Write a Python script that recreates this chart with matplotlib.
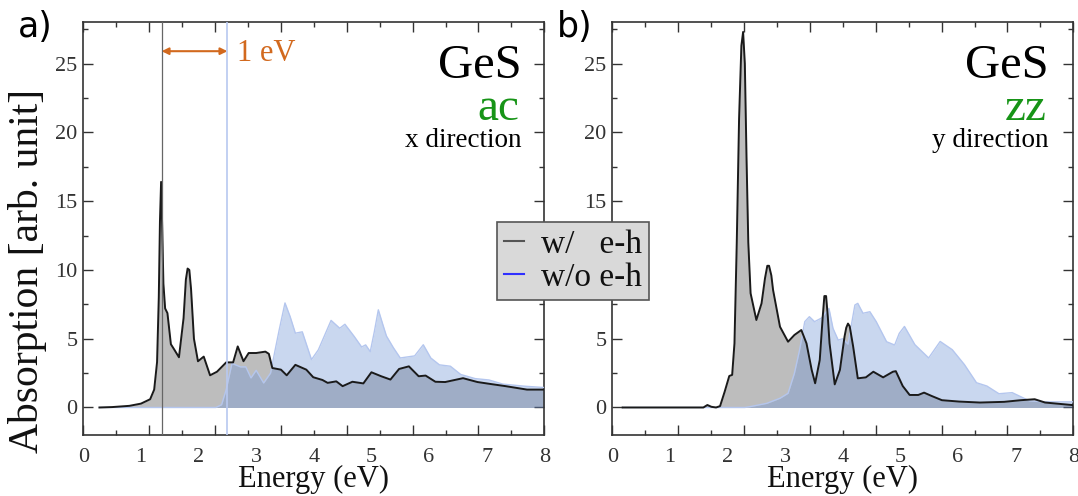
import numpy as np
import matplotlib
matplotlib.use("Agg")
import matplotlib.pyplot as plt
from matplotlib.ticker import FixedLocator, NullFormatter
from matplotlib.lines import Line2D

plt.rcParams['font.family'] = ['Liberation Serif', 'DejaVu Serif']

# ---------------- data ----------------
# panel a) : GeS, ac, x direction
a_x_eh = [0.28, 0.5, 0.8, 1.0, 1.16, 1.23, 1.28, 1.31, 1.33, 1.35, 1.37, 1.39, 1.42, 1.46,
          1.52, 1.58, 1.66, 1.74, 1.78, 1.81, 1.84, 1.87, 1.92, 1.99, 2.09, 2.2, 2.32,
          2.48, 2.6, 2.68, 2.78, 2.87, 3.0, 3.16, 3.22, 3.28, 3.43, 3.53, 3.68, 3.87, 3.99,
          4.15, 4.24, 4.39, 4.5, 4.67, 4.86, 5.0, 5.17, 5.33, 5.48, 5.65, 5.82, 5.94, 6.11,
          6.28, 6.59, 6.84, 7.08, 7.33, 7.7, 8.0]
a_y_eh = [0.0, 0.03, 0.12, 0.28, 0.6, 1.3, 3.3, 8.0, 13.5, 16.4, 13.0, 9.0, 7.2, 6.86,
          4.6, 4.2, 3.65, 6.5, 9.3, 10.1, 10.0, 8.6, 5.0, 3.36, 3.7, 2.34, 2.6,
          3.28, 3.28, 4.44, 3.36, 3.96, 3.96, 4.06, 3.9, 2.87, 2.75, 2.34, 3.1, 2.75, 2.2,
          2.0, 1.79, 1.9, 1.55, 1.87, 1.75, 2.56, 2.27, 2.03, 2.8, 2.99, 2.27, 2.32, 1.87,
          1.85, 2.13, 1.85, 1.7, 1.55, 1.3, 1.3]
a_x_noeh = [0.28, 2.3, 2.4, 2.48, 2.58, 2.73, 2.82, 2.91, 3.0, 3.13, 3.25, 3.33, 3.4, 3.5,
            3.59, 3.68, 3.8, 3.96, 4.08, 4.3, 4.45, 4.54, 4.7, 4.83, 4.9, 4.98, 5.05, 5.12,
            5.2, 5.26, 5.38, 5.5, 5.75, 5.9, 6.03, 6.18, 6.37, 6.55, 6.8, 7.04, 7.28, 7.65,
            8.0]
a_y_noeh = [0.0, 0.0, 0.2, 1.3, 3.2, 2.95, 2.95, 2.15, 2.7, 1.78, 2.5, 4.2, 5.65, 7.6,
            6.6, 5.4, 5.5, 3.48, 4.2, 6.33, 5.76, 6.05, 5.17, 4.4, 4.55, 4.06, 5.5, 7.1,
            6.0, 5.2, 4.35, 3.6, 3.75, 4.56, 3.6, 3.1, 3.0, 2.4, 2.1, 2.0, 1.7, 1.55,
            1.45]

# panel b) : GeS, zz, y direction
b_x_eh = [0.18, 1.58, 1.65, 1.72, 1.8, 1.87, 1.95, 2.03, 2.08, 2.12, 2.16, 2.20, 2.24, 2.27,
          2.30, 2.33, 2.36, 2.40, 2.5, 2.59, 2.65, 2.69, 2.72, 2.76, 2.79, 2.91, 3.05, 3.16,
          3.28, 3.37, 3.46, 3.52, 3.6, 3.65, 3.68, 3.71, 3.74, 3.77, 3.86, 3.95, 4.03, 4.06,
          4.09, 4.12, 4.18, 4.26, 4.40, 4.53, 4.70, 4.87, 4.92, 5.04, 5.16, 5.31, 5.41,
          5.54, 5.72, 6.02, 6.38, 6.8, 7.09, 7.33, 7.51, 7.69, 8.0]
b_y_eh = [0.0, 0.0, 0.18, 0.05, 0.0, 0.1, 1.15, 2.29, 2.37, 4.66, 12.0, 21.0, 26.3, 27.3,
          25.0, 18.0, 12.0, 8.3, 6.36, 7.57, 9.4, 10.3, 10.3, 9.6, 8.54, 5.87, 4.78, 5.27,
          5.63, 4.66, 2.73, 1.76, 3.45, 6.5, 8.1, 8.1, 6.6, 4.66, 1.68, 2.73, 5.15, 5.8,
          6.1, 5.9, 4.42, 2.12, 2.19, 2.6, 2.19, 2.6, 2.64, 1.56, 0.91, 0.91, 1.08,
          0.84, 0.53, 0.43, 0.36, 0.41, 0.53, 0.6, 0.36, 0.29, 0.17]
b_x_noeh = [0.18, 2.3, 2.39, 2.68, 2.91, 3.05, 3.16, 3.25, 3.34, 3.42, 3.51, 3.63, 3.76,
            3.83, 3.92, 4.0, 4.09, 4.21, 4.26, 4.35, 4.47, 4.58, 4.76, 4.9, 4.98, 5.07,
            5.25, 5.49, 5.69, 5.9, 6.11, 6.32, 6.5, 6.71, 6.94, 7.06, 7.24, 7.51, 8.0]
b_y_noeh = [0.0, 0.0, 0.06, 0.3, 0.67, 1.03, 2.48, 4.18, 6.24, 6.6, 6.24, 6.5, 7.2,
            5.75, 4.9, 5.0, 4.6, 7.45, 7.57, 6.85, 6.96, 6.24, 4.78, 4.54, 5.39, 5.89,
            4.57, 3.6, 4.8, 4.2, 3.12, 1.8, 1.56, 1.0, 1.08, 0.84, 0.48, 0.41, 0.41]

x_tick_labels = [0, 1, 2, 3, 4, 5, 6, 7, 8]
y_tick_labels = [0, 5, 10, 15, 20, 25]
exc_line_a = 1.36     # w/ e-h onset
qp_line_a = 2.50      # w/o e-h onset
panel_names = ['a)', 'b)']
materials = ['GeS', 'GeS']
edges = ['ac', 'zz']
directions = ['x direction', 'y direction']
legend_labels = ['w/   e-h', 'w/o e-h']

# ---------------- styling ----------------
W, H = 1078, 496
fig = plt.figure(figsize=(W / 100, H / 100), dpi=100)

GRAY_FILL = '#bdbdbd'
BLUE_FILL = '#6d93d6'
BLUE_EDGE = '#b4c6ee'
BLACK = '#1a1a1a'
GREEN = '#179417'
ORANGE = '#d2691e'
TICKC = '#333333'

ax_h = (435 - 22.3) / H
ax_bottom = (H - 435) / H
axes = [fig.add_axes([83.3 / W, ax_bottom, 461 / W, ax_h]),
        fig.add_axes([612.3 / W, ax_bottom, 461 / W, ax_h])]

data = [(a_x_eh, a_y_eh, a_x_noeh, a_y_noeh), (b_x_eh, b_y_eh, b_x_noeh, b_y_noeh)]

for i, ax in enumerate(axes):
    xe, ye, xn, yn = data[i]
    ax.fill_between(xe, 0, ye, color=GRAY_FILL, lw=0, zorder=1)
    ax.fill_between(xn, 0, yn, color=BLUE_FILL, alpha=0.37, lw=0, zorder=2)
    ax.plot(xn, yn, color=BLUE_EDGE, lw=1.0, zorder=3)
    ax.plot(xe, ye, color=BLACK, lw=1.4, zorder=4, solid_joinstyle='round')
    ax.set_xlim(0, 8)
    ax.set_ylim(-2, 28)

    # tick marks (drawn on a 7-interval grid like the reference), labels on integers
    ax.xaxis.set_major_locator(FixedLocator([k * 8 / 7 for k in range(8)]))
    ax.xaxis.set_minor_locator(FixedLocator([(2 * k + 1) * 4 / 7 for k in range(7)]))
    ax.xaxis.set_major_formatter(NullFormatter())
    ax.yaxis.set_major_locator(FixedLocator(y_tick_labels))
    ax.yaxis.set_minor_locator(FixedLocator([2.5, 7.5, 12.5, 17.5, 22.5, 27.5]))
    ax.tick_params(which='both', direction='in', top=True, right=True, color=TICKC,
                   width=1.0)
    ax.tick_params(which='major', length=7)
    ax.tick_params(which='minor', length=3.5)
    ax.tick_params(axis='y', which='major', labelsize=16, labelcolor=TICKC, pad=4)
    ax.set_yticklabels([str(v) for v in y_tick_labels])

    sec = ax.secondary_xaxis('bottom')
    sec.set_xticks(x_tick_labels)
    sec.set_xticklabels([str(v) for v in x_tick_labels])
    sec.tick_params(length=0, labelsize=16, labelcolor=TICKC, pad=9)
    for s in sec.spines.values():
        s.set_visible(False)

    for s in ax.spines.values():
        s.set_color('#333333')
        s.set_linewidth(1.2)

    ax.set_xlabel('Energy (eV)', fontsize=22, color='#111111')
    ax.xaxis.set_label_coords(0.5, -0.072)
    ax.xaxis.label.set_va('top')

    xr = 0.951 if i == 0 else 0.947
    ax.text(xr, 0.865, materials[i], transform=ax.transAxes, ha='right', va='baseline',
            fontsize=35, color='black')
    ax.text(xr - 0.004, 0.763, edges[i], transform=ax.transAxes, ha='right', va='baseline',
            fontsize=34, color=GREEN)
    ax.text(xr, 0.698, directions[i], transform=ax.transAxes, ha='right', va='baseline',
            fontsize=19.5, color='black')

# onset markers and 1 eV arrow in panel a
axA = axes[0]
axA.axvline(exc_line_a, color='#666666', lw=0.9, zorder=5)
axA.axvline(qp_line_a, color='#b8c8f0', lw=1.2, zorder=5)
axA.annotate('', xy=(exc_line_a, 25.9), xytext=(qp_line_a, 25.9),
             arrowprops=dict(arrowstyle='<|-|>', color=ORANGE, lw=1.5,
                             shrinkA=0, shrinkB=0, mutation_scale=10), zorder=6)
axA.text(2.67, 25.2, '1 eV', color=ORANGE, fontsize=22, ha='left', va='baseline')

# y label
fig.text(28 / W, 1 - 271 / H, 'Absorption [arb. unit]', rotation=90, ha='center',
         va='center', fontsize=30, color='#111111')

# panel letters
fig.text(18 / W, 1 - 37 / H, panel_names[0], fontsize=25, family='DejaVu Sans',
         ha='left', va='baseline')
fig.text(557 / W, 1 - 37 / H, panel_names[1], fontsize=25, family='DejaVu Sans',
         ha='left', va='baseline')

# legend
handles = [Line2D([], [], color='#555555', lw=1.5),
           Line2D([], [], color='#3030ff', lw=1.5)]
leg = fig.legend(handles, legend_labels, loc='upper left',
                 bbox_to_anchor=(497 / W, 1 - 222 / H), bbox_transform=fig.transFigure,
                 fontsize=24, frameon=True, fancybox=False, framealpha=1.0,
                 facecolor='#d9d9d9', edgecolor='#555555', handlelength=0.6,
                 handletextpad=0.5, borderpad=0.22, labelspacing=0.08, borderaxespad=0)
leg.get_frame().set_linewidth(1.2)
for t in leg.get_texts():
    t.set_color('#111111')

fig.savefig('out.png', dpi=100)
